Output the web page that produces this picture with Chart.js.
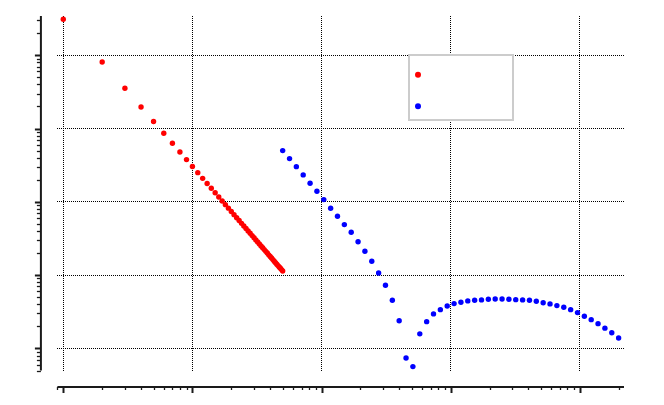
<!DOCTYPE html>
<html>
<head>
<meta charset="utf-8">
<script src="https://cdn.jsdelivr.net/npm/chart.js@4"></script>
<style>
  html, body { margin: 0; padding: 0; background: #fff; }
  #wrap { width: 664px; height: 405px; }
</style>
</head>
<body>
<div id="wrap"><canvas id="chart"></canvas></div>
<script>
// Данные (лог-лог шкала)
const redX = [1, 2, 3, 4, 5, 6, 7, 8, 9, 10,
  11, 12, 13, 14, 15, 16, 17, 18, 19, 20,
  21, 22, 23, 24, 25, 26, 27, 28, 29, 30,
  31, 32, 33, 34, 35, 36, 37, 38, 39, 40,
  41, 42, 43, 44, 45, 46, 47, 48, 49, 50];
const redY = [3.10, 0.81, 0.354, 0.197, 0.125, 0.0861, 0.0629, 0.0479, 0.0377, 0.0304,
  0.0250, 0.0209, 0.0178, 0.0153, 0.0133, 0.01165, 0.01029, 0.00916, 0.00820, 0.00739,
  0.00669, 0.00608, 0.00556, 0.00509, 0.00469, 0.00433, 0.00401, 0.00372, 0.00346, 0.00323,
  0.00302, 0.00283, 0.00266, 0.00250, 0.00236, 0.00223, 0.00211, 0.00200, 0.00189, 0.00180,
  0.00171, 0.00163, 0.00155, 0.00148, 0.00141, 0.00135, 0.00129, 0.00124, 0.00119, 0.00114];

const blueX = [50, 56.5, 63.8, 72.1, 81.5, 92.1, 104.1, 117.6, 132.9, 150.2,
  169.7, 191.8, 216.7, 244.9, 276.7, 312.7, 353.4, 399.3, 451.2, 509.9,
  576.7, 651.7, 736.4, 832.2, 940.4, 1062.7, 1200.8, 1356.9, 1533.3, 1732.6,
  1957.9, 2212.4, 2500, 2825, 3192, 3607, 4076, 4606, 5205, 5882,
  6647, 7518, 8495, 9600, 10848, 12258, 13852, 15653, 17688, 19987];
const blueY = [0.0500, 0.0389, 0.0302, 0.0233, 0.01794, 0.01395, 0.01072, 0.00818, 0.00636, 0.00489,
  0.00385, 0.00286, 0.00212, 0.00155, 0.00107, 0.000728, 0.000455, 0.000239, 0.0000742, 0.0000565,
  0.000158, 0.000232, 0.000296, 0.000338, 0.000380, 0.000409, 0.000427, 0.000445, 0.000455, 0.000459,
  0.000469, 0.000473, 0.000473, 0.000469, 0.000463, 0.000459, 0.000455, 0.000440, 0.000421, 0.000405,
  0.000384, 0.000365, 0.000338, 0.000308, 0.000275, 0.000247, 0.000218, 0.000189, 0.000164, 0.000139];

// Деления сетки (только декады)
const xDecades = [1, 10, 100, 1000, 10000];
const yDecades = [0.0001, 0.001, 0.01, 0.1, 1];

const xRange = [0.9, 22000];
const yRange = [5e-5, 3.43];

// Все деления логарифмической оси: 1..9 в каждой декаде
function logTicks(min, max) {
  const out = [];
  for (let e = Math.floor(Math.log10(min)); e <= Math.ceil(Math.log10(max)); e++) {
    for (let m = 1; m <= 9; m++) {
      const v = m * Math.pow(10, e);
      if (v >= min * 0.999 && v <= max * 1.001) out.push({ v, major: m === 1 });
    }
  }
  return out;
}

// Оси, отодвинутые от области графика
const offsetAxes = {
  id: 'offsetAxes',
  afterDraw(chart) {
    const { ctx, chartArea: a, scales } = chart;
    const ax = a.left - 16.5;
    const ay = a.bottom + 16.5;
    ctx.save();
    ctx.strokeStyle = '#1a1a1a';
    ctx.lineWidth = 2;
    ctx.beginPath();
    ctx.moveTo(ax, a.top);
    ctx.lineTo(ax, a.bottom);
    ctx.moveTo(a.left, ay);
    ctx.lineTo(a.right, ay);
    ctx.stroke();

    logTicks(yRange[0], yRange[1]).forEach(t => {
      const py = Math.round(scales.y.getPixelForValue(t.v)) + 0.5;
      ctx.lineWidth = t.major ? 2 : 1.3;
      ctx.beginPath();
      ctx.moveTo(ax, py);
      ctx.lineTo(ax - (t.major ? 6 : 4), py);
      ctx.stroke();
    });
    logTicks(xRange[0], xRange[1]).forEach(t => {
      const px = Math.round(scales.x.getPixelForValue(t.v)) + 0.5;
      ctx.lineWidth = t.major ? 2 : 1.3;
      ctx.beginPath();
      ctx.moveTo(px, ay);
      ctx.lineTo(px, ay + (t.major ? 6 : 3));
      ctx.stroke();
    });
    ctx.restore();
  }
};

// Легенда без подписей: рамка и две точки
const dotLegend = {
  id: 'dotLegend',
  afterDatasetsDraw(chart) {
    const ctx = chart.ctx;
    ctx.save();
    ctx.fillStyle = '#fff';
    ctx.fillRect(408, 54, 106, 67);
    ctx.strokeStyle = '#cccccc';
    ctx.lineWidth = 2;
    ctx.strokeRect(409, 55, 104, 65);
    chart.data.datasets.forEach((ds, i) => {
      ctx.fillStyle = ds.backgroundColor;
      ctx.beginPath();
      ctx.arc(418, 74.7 + i * 31.5, 3, 0, Math.PI * 2);
      ctx.fill();
    });
    ctx.restore();
  }
};

const ctx = document.getElementById('chart').getContext('2d');
const chart = new Chart(ctx, {
  type: 'scatter',
  data: {
    datasets: [{
      label: 'red',
      data: redX.map((x, i) => ({ x, y: redY[i] })),
      backgroundColor: '#ff0000',
      pointRadius: 2.7,
      pointBorderWidth: 0
    }, {
      label: 'blue',
      data: blueX.map((x, i) => ({ x, y: blueY[i] })),
      backgroundColor: '#0000ff',
      pointRadius: 2.7,
      pointBorderWidth: 0
    }]
  },
  options: {
    responsive: true,
    maintainAspectRatio: false,
    animation: false,
    layout: { padding: { left: 57.4, top: 16, right: 40, bottom: 34.5 } },
    plugins: { legend: { display: false }, tooltip: { enabled: false } },
    scales: {
      x: {
        type: 'logarithmic',
        min: xRange[0],
        max: xRange[1],
        afterBuildTicks: s => { s.ticks = xDecades.map(v => ({ value: v })); },
        ticks: { display: false },
        grid: { color: '#000', lineWidth: 1, drawTicks: false },
        border: { display: false, dash: [1, 1] }
      },
      y: {
        type: 'logarithmic',
        min: yRange[0],
        max: yRange[1],
        afterBuildTicks: s => { s.ticks = yDecades.map(v => ({ value: v })); },
        ticks: { display: false },
        grid: { color: '#000', lineWidth: 1, drawTicks: false },
        border: { display: false, dash: [1, 1] }
      }
    }
  },
  plugins: [offsetAxes, dotLegend]
});
</script>
</body>
</html>
